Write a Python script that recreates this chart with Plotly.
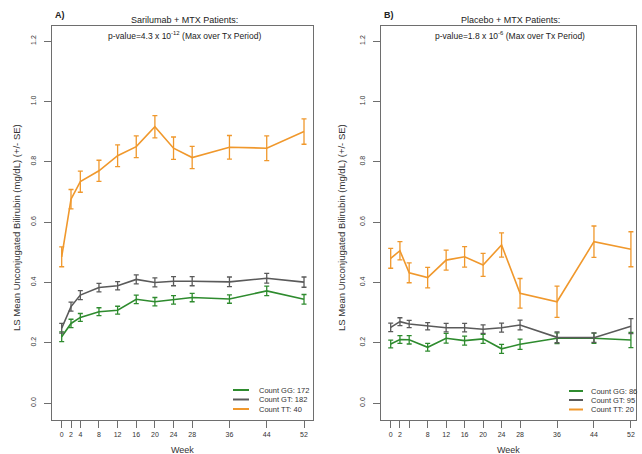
import plotly.graph_objects as go

W, H = 642, 454

weeks = [0, 2, 4, 8, 12, 16, 20, 24, 28, 36, 44, 52]
tick_labels_a = ["0", "2", "4", "8", "12", "16", "20", "24", "28", "36", "44", "52"]
tick_labels_b = ["0", "2", "", "8", "12", "16", "20", "24", "28", "36", "44", "52"]
y_ticks = [0.0, 0.2, 0.4, 0.6, 0.8, 1.0, 1.2]
y_tick_labels = ["0.0", "0.2", "0.4", "0.6", "0.8", "1.0", "1.2"]

# Panel A: Sarilumab + MTX
gg_a = [0.220, 0.264, 0.284, 0.303, 0.308, 0.344, 0.336, 0.342, 0.350, 0.345, 0.372, 0.344]
gg_a_se = [0.016, 0.014, 0.013, 0.013, 0.013, 0.014, 0.014, 0.014, 0.014, 0.014, 0.016, 0.016]
gt_a = [0.248, 0.320, 0.358, 0.383, 0.389, 0.410, 0.400, 0.404, 0.404, 0.402, 0.414, 0.401]
gt_a_se = [0.016, 0.015, 0.015, 0.014, 0.014, 0.015, 0.015, 0.015, 0.015, 0.016, 0.016, 0.017]
tt_a = [0.485, 0.676, 0.734, 0.770, 0.820, 0.850, 0.916, 0.845, 0.814, 0.848, 0.845, 0.900]
tt_a_se = [0.033, 0.032, 0.035, 0.035, 0.036, 0.036, 0.037, 0.037, 0.037, 0.039, 0.041, 0.042]

# Panel B: Placebo + MTX
gg_b = [0.196, 0.211, 0.210, 0.185, 0.215, 0.207, 0.213, 0.180, 0.195, 0.215, 0.215, 0.209]
gg_b_se = [0.013, 0.013, 0.014, 0.013, 0.016, 0.015, 0.015, 0.015, 0.017, 0.018, 0.017, 0.025]
gt_b = [0.251, 0.270, 0.262, 0.255, 0.250, 0.250, 0.245, 0.250, 0.259, 0.218, 0.217, 0.255]
gt_b_se = [0.014, 0.013, 0.012, 0.012, 0.014, 0.014, 0.014, 0.015, 0.016, 0.018, 0.016, 0.025]
tt_b = [0.480, 0.505, 0.432, 0.416, 0.474, 0.485, 0.458, 0.524, 0.364, 0.336, 0.535, 0.510]
tt_b_se = [0.033, 0.030, 0.033, 0.034, 0.033, 0.034, 0.038, 0.040, 0.049, 0.052, 0.052, 0.058]

genotypes = ["GG", "GT", "TT"]
counts_a = [172, 182, 40]
counts_b = [86, 95, 20]

titles = ["Sarilumab + MTX Patients:", "Placebo + MTX Patients:"]
pvals = ["p-value=4.3 x 10<sup>-12</sup> (Max over Tx Period)",
         "p-value=1.8 x 10<sup>-6</sup> (Max over Tx Period)"]
panel_tags = ["A)", "B)"]
y_title = "LS Mean Unconjugated Bilirubin (mg/dL) (+/- SE)"
x_title = "Week"

colors = {"GG": "#2E8B2E", "GT": "#5A5A5A", "TT": "#F0982C"}
FONT = "Liberation Sans, Arial, sans-serif"
AXC = "#6E6E6E"


def px(x):
    return x / W


def py(y):
    return 1 - y / H


panels = [
    dict(x0=52, x1=313, xr=[-2.08, 53.93], ticks=tick_labels_a,
         data=[(gg_a, gg_a_se), (gt_a, gt_a_se), (tt_a, tt_a_se)], counts=counts_a,
         leg_line=(233, 249), leg_text=257, leg_rows=[390, 399.5, 409], ylab_x=16),
    dict(x0=381, x1=636, xr=[-2.1, 53.1], ticks=tick_labels_b,
         data=[(gg_b, gg_b_se), (gt_b, gt_b_se), (tt_b, tt_b_se)], counts=counts_b,
         leg_line=(569, 583), leg_text=589, leg_rows=[391, 400, 409.5], ylab_x=341),
]

top, bottom = 26, 420
fig = go.Figure()
annotations = []
shapes = []


def ann(x, y, text, size, xanchor="center", angle=0, color="#222"):
    annotations.append(dict(x=px(x), y=py(y), xref="paper", yref="paper",
                            text=text, showarrow=False, xanchor=xanchor,
                            yanchor="middle", textangle=angle,
                            font=dict(size=size, color=color, family=FONT)))


for i, p in enumerate(panels):
    sfx = "" if i == 0 else str(i + 1)
    for g, (vals, se) in zip(genotypes, p["data"]):
        fig.add_trace(go.Scatter(
            x=weeks, y=vals, mode="lines",
            line=dict(color=colors[g], width=1.6),
            error_y=dict(type="data", array=se, visible=True,
                         color=colors[g], thickness=1.3, width=2.5),
            xaxis="x" + sfx, yaxis="y" + sfx, showlegend=False,
            hoverinfo="skip",
        ))
    xa = dict(domain=[px(p["x0"]), px(p["x1"])], range=p["xr"],
              tickmode="array", tickvals=weeks, ticktext=p["ticks"],
              showgrid=False, zeroline=False, showline=True, mirror=True,
              linecolor=AXC, linewidth=1.2, ticks="outside", ticklen=7,
              tickcolor=AXC, tickwidth=1.2, automargin=False,
              tickfont=dict(size=7, color="#333", family=FONT),
              anchor="y" + sfx)
    ya = dict(domain=[py(bottom), py(top)], range=[-0.056, 1.25],
              tickmode="array", tickvals=y_ticks, ticktext=y_tick_labels,
              showgrid=False, zeroline=False, showline=True, mirror=True,
              linecolor=AXC, linewidth=1.2, ticks="outside", ticklen=7,
              tickcolor=AXC, tickwidth=1.2, tickangle=-90, automargin=False,
              tickfont=dict(size=7, color="#333", family=FONT),
              ticklabelstandoff=5, anchor="x" + sfx)
    fig.layout["xaxis" + sfx] = xa
    fig.layout["yaxis" + sfx] = ya

    cx = (p["x0"] + p["x1"]) / 2
    ann(cx + 2, 20, titles[i], 9)
    ann(cx + 2, 36, pvals[i], 8.5)
    ann(p["x0"] + 1, 15, "<b>" + panel_tags[i] + "</b>", 9, xanchor="left")
    ann(p["ylab_x"], 228, y_title, 9.5, angle=-90, color="#333")
    ann(cx, 450, x_title, 9, color="#333")
    # legend (drawn manually for compact row spacing)
    for g, c, ry in zip(genotypes, p["counts"], p["leg_rows"]):
        shapes.append(dict(type="line", xref="paper", yref="paper",
                           x0=px(p["leg_line"][0]), x1=px(p["leg_line"][1]),
                           y0=py(ry), y1=py(ry),
                           line=dict(color=colors[g], width=2)))
        ann(p["leg_text"], ry, "Count %s: %d" % (g, c), 7.5, xanchor="left", color="#333")

fig.update_layout(
    width=W, height=H, margin=dict(l=0, r=0, t=0, b=0, autoexpand=False),
    paper_bgcolor="white", plot_bgcolor="white",
    annotations=annotations, shapes=shapes, showlegend=False,
    hovermode=False,
)

fig.write_html(
    "out.html",
    config={"displayModeBar": False},
    post_script="document.body.style.margin='0';document.body.style.overflow='hidden';",
)
